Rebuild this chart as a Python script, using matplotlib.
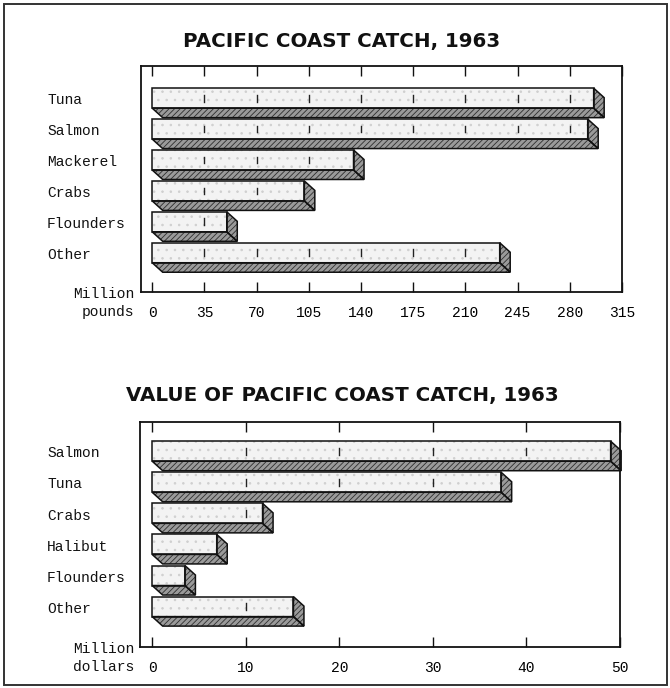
import matplotlib
matplotlib.use("Agg")
import matplotlib.pyplot as plt
from matplotlib.patches import Polygon, Rectangle
from matplotlib import transforms

# ---- data -------------------------------------------------------------
pounds_categories = ["Tuna", "Salmon", "Mackerel", "Crabs", "Flounders", "Other"]
pounds_values = [296, 292, 135, 102, 50, 233]
pounds_ticks = [0, 35, 70, 105, 140, 175, 210, 245, 280, 315]

dollars_categories = ["Salmon", "Tuna", "Crabs", "Halibut", "Flounders", "Other"]
dollars_values = [49.0, 37.3, 11.8, 6.9, 3.5, 15.1]
dollars_ticks = [0, 10, 20, 30, 40, 50]

# ---- style ------------------------------------------------------------
W, H = 670, 688
MONO = ["Liberation Mono", "DejaVu Sans Mono"]
TITLE = ["DejaVu Sans"]
plt.rcParams["hatch.linewidth"] = 0.6

fig = plt.figure(figsize=(W / 100, H / 100), dpi=100)


def box(left, top, right, bottom):
    return [left / W, 1 - bottom / H, (right - left) / W, (bottom - top) / H]


def fx(x):
    return x / W


def fy(y):
    return 1 - y / H


def draw_panel(rect_px, xlim, ylim, cats, vals, ticks, unit_lines, title, title_y):
    left, top, right, bottom = rect_px
    ax = fig.add_axes(box(left, top, right, bottom))
    ax.set_xlim(*xlim)
    ax.set_ylim(*ylim)  # inverted: first category on top
    ax.set_yticks([])
    ax.set_xticks(ticks)
    ax.set_xticklabels([str(t) for t in ticks], fontfamily=MONO, fontsize=10.5)
    ax.tick_params(axis="x", direction="in", top=True, bottom=True,
                   length=7, width=1.0, pad=10, color="#111111")
    for s in ax.spines.values():
        s.set_linewidth(1.3)
        s.set_color("#111111")

    # bar depth in data units (pixel depth converted with the panel scale)
    xpp = (xlim[1] - xlim[0]) / (right - left)
    ypp = (ylim[0] - ylim[1]) / (bottom - top)
    ddx = 10.5 * xpp
    ddy = 9.5 * ypp
    half = 10.0 * ypp

    for i, v in enumerate(vals):
        ytop, ybot = i - half, i + half
        bottom_face = [(0, ybot), (v, ybot), (v + ddx, ybot + ddy), (ddx, ybot + ddy)]
        side_face = [(v, ytop), (v + ddx, ytop + ddy), (v + ddx, ybot + ddy), (v, ybot)]
        for pts in (bottom_face, side_face):
            ax.add_patch(Polygon(pts, closed=True, facecolor="#9a9a9a",
                                 edgecolor="#2e2e2e", hatch="//////", lw=0,
                                 clip_on=False, zorder=2))
            ax.add_patch(Polygon(pts, closed=True, fill=False,
                                 edgecolor="#111111", lw=1.1,
                                 clip_on=False, zorder=3))
        ax.add_patch(Rectangle((0, ytop), v, 2 * half, facecolor="#f3f3f3",
                               edgecolor="#cfcfcf", hatch="..", lw=0,
                               zorder=2, clip_on=False))
        ax.add_patch(Rectangle((0, ytop), v, 2 * half, fill=False,
                               edgecolor="#111111", lw=1.1, zorder=3,
                               clip_on=False))
        # scale marks printed across the face of the bar
        for t in ticks[1:]:
            if t < v - 0.03 * (xlim[1] - xlim[0]):
                ax.plot([t, t], [i - 0.11, i + 0.11], color="#222222",
                        lw=1.0, zorder=4)

    # category labels at the left margin
    trans = transforms.blended_transform_factory(fig.transFigure, ax.transData)
    for i, c in enumerate(cats):
        fig.text(fx(47), i + 0.07, c, transform=trans, ha="left", va="center",
                 fontfamily=MONO, fontsize=10.5, color="#111111")

    # unit caption beside the axis numbers
    fig.text(fx(134), fy(bottom + 2), unit_lines[0], ha="right", va="center",
             fontfamily=MONO, fontsize=10.5, color="#111111")
    fig.text(fx(134), fy(bottom + 20), unit_lines[1], ha="right", va="center",
             fontfamily=MONO, fontsize=10.5, color="#111111")

    fig.text(fx(342), fy(title_y), title, ha="center", va="center",
             fontfamily=TITLE, fontweight="bold", fontsize=14.3,
             color="#111111")
    return ax


draw_panel((141, 66, 622, 292), (-7.5, 315), (6.27, -1.04),
           pounds_categories, pounds_values, pounds_ticks,
           ("Million", "pounds"), "PACIFIC COAST CATCH, 1963", 41)

draw_panel((140, 422, 620, 647), (-1.3, 50), (6.30, -0.94),
           dollars_categories, dollars_values, dollars_ticks,
           ("Million", "dollars"), "VALUE OF PACIFIC COAST CATCH, 1963", 396)

# outer frame around the whole page
fig.add_artist(Rectangle((fx(4), fy(685)), fx(663), (681) / H, fill=False,
                         edgecolor="#333333", lw=1.4,
                         transform=fig.transFigure))

fig.savefig("out.png", dpi=100, facecolor="white")
